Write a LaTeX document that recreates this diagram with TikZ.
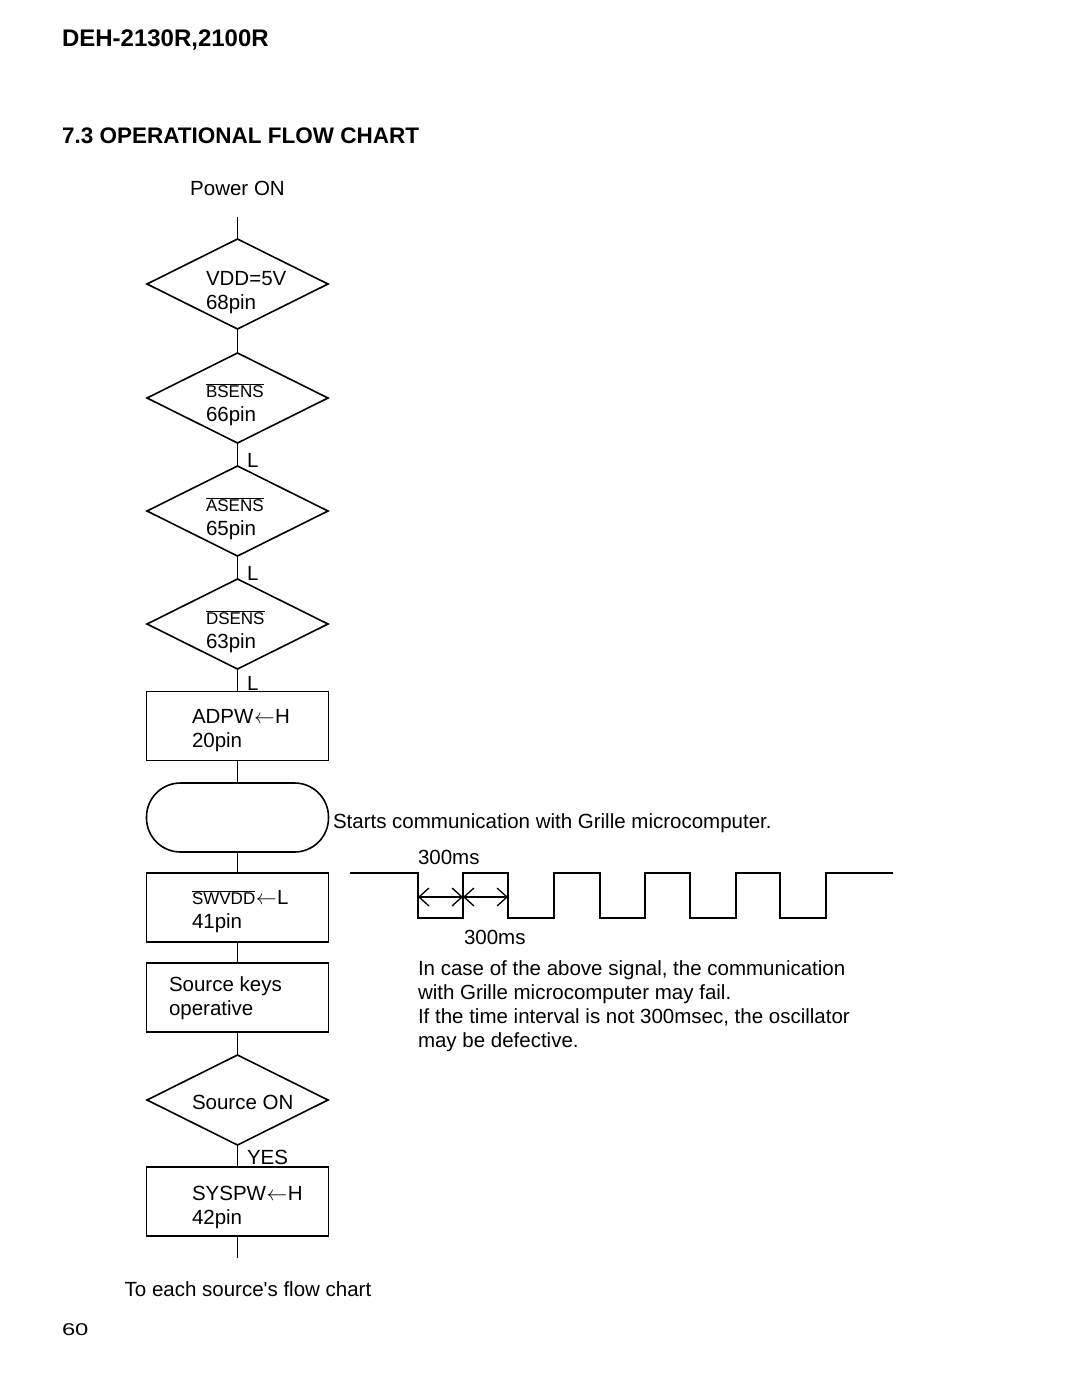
\documentclass[tikz,border=0pt]{standalone}
\usepackage{fontspec}
\setmainfont{Liberation Sans}
\newfontfamily\qfont{Liberation Sans}
\usetikzlibrary{shapes.geometric,arrows.meta}
\newcommand\ovl[1]{$\overline{\hbox{#1}}$}
\newcommand\larr{\kern0.5pt$\leftarrow$\kern0.5pt}
\begin{document}
\begin{tikzpicture}[x=1pt,y=-1pt,
  every node/.style={inner sep=0pt, outer sep=0pt},
  line/.style={line width=1.6pt},
  dia/.style={diamond, draw, line width=1.6pt, minimum width=181pt, minimum height=90pt},
  proc/.style={rectangle, draw, line width=1.6pt, minimum width=182pt, minimum height=69pt},
  term/.style={rectangle, rounded corners=34pt, draw, line width=1.6pt, minimum width=182pt, minimum height=69pt},
  txt/.style={anchor=west, align=left, font=\fontsize{20.5}{24}\selectfont},
  barb/.style={line width=1.3pt, {Straight Barb[length=10pt,width=18pt]}-{Straight Barb[length=10pt,width=18pt]}}
]
\useasboundingbox (0,0) rectangle (1080,1397);

% header
\node[anchor=west, font=\fontsize{24}{26}\selectfont\bfseries] (hdr) at (62,40) {DEH-2130R,2100R};
\node[anchor=west, font=\fontsize{22.5}{26}\selectfont\bfseries] (ttl) at (62,136) {7.3 OPERATIONAL FLOW CHART};

% start
\node[txt, anchor=center] (pon) at (237.5,188) {Power ON};
\coordinate (ponout) at (237.5,217);

% shapes
\node[dia] (d1) at (237.5,284) {};
\node[dia] (d2) at (237.5,398) {};
\node[dia] (d3) at (237.5,511) {};
\node[dia] (d4) at (237.5,624) {};
\node[proc] (adpw) at (237.5,726) {};
\node[term] (comm) at (237.5,817.5) {};
\node[proc] (swvdd) at (237.5,907.5) {};
\node[proc] (keys) at (237.5,997.5) {};
\node[dia] (src) at (237.5,1100) {};
\node[proc] (syspw) at (237.5,1201.5) {};
\coordinate (endpt) at (237.5,1258);

% texts in shapes
\node[txt] (t1) at (206,292.5) {VDD=5V\\68pin};
\node[txt] (t2) at (206,405) {{\fontsize{17}{20}\selectfont\ovl{BSENS}}\\66pin};
\node[txt] (t3) at (206,518.5) {{\fontsize{17}{20}\selectfont\ovl{ASENS}}\\65pin};
\node[txt] (t4) at (206,632) {{\fontsize{17}{20}\selectfont\ovl{DSENS}}\\63pin};
\node[txt] (t5) at (192,731) {ADPW\larr H\\20pin};
\node[txt] (t6) at (192,911.5) {{\fontsize{17}{20}\selectfont\ovl{SWVDD}}\larr L\\41pin};
\node[txt] (t7) at (169,998.5) {Source keys\\operative};
\node[txt] (t8) at (192,1102) {Source ON};
\node[txt] (t9) at (192,1207) {SYSPW\larr H\\42pin};

% connectors
\draw[line] (ponout) -- (d1.north);
\draw[line] (d1.south) -- (d2.north);
\draw[line] (d2.south) -- (d3.north);
\draw[line] (d3.south) -- (d4.north);
\draw[line] (d4.south) -- (adpw.north);
\draw[line] (adpw.south) -- (comm.north);
\draw[line] (comm.south) -- (swvdd.north);
\draw[line] (swvdd.south) -- (keys.north);
\draw[line] (keys.south) -- (src.north);
\draw[line] (src.south) -- (syspw.north);
\draw[line] (syspw.south) -- (endpt);

% branch labels
\node[txt] (l1) at (247,460) {L};
\node[txt] (l2) at (247,573) {L};
\node[txt] (l3) at (247,683) {L};
\node[txt] (yes) at (247,1157) {YES};

\node[txt, anchor=center] (each) at (248,1289) {To each source{\qfont'}s flow chart};

% communication note
\node[txt] (startc) at (333,823) {Starts communication with Grille microcomputer.};

% waveform
\draw[line width=1.5pt] (350,873) -- (418,873) -- (418,918) -- (463,918) -- (463,873) -- (508,873) -- (508,918) -- (554,918) -- (554,873) -- (600,873) -- (600,918) -- (645,918) -- (645,873) -- (690,873) -- (690,918) -- (736,918) -- (736,873) -- (780,873) -- (780,918) -- (826,918) -- (826,873) -- (893,873);
\coordinate (a1) at (418,897);
\coordinate (a2) at (463,897);
\coordinate (a3) at (508,897);
\draw[barb] (a1) -- (a2);
\draw[barb] (a2) -- (a3);
\node[txt] (ms1) at (418,857) {300ms};
\node[txt] (ms2) at (464,937) {300ms};

\node[txt, anchor=north west] (note) at (418,961) {In case of the above signal, the communication\\with Grille microcomputer may fail.\\If the time interval is not 300msec, the oscillator\\may be defective.};

% page number
\node[anchor=west, font=\fontsize{17}{18}\selectfont, xscale=1.4, transform shape] (pg) at (62,1330) {60};
\end{tikzpicture}
\end{document}
